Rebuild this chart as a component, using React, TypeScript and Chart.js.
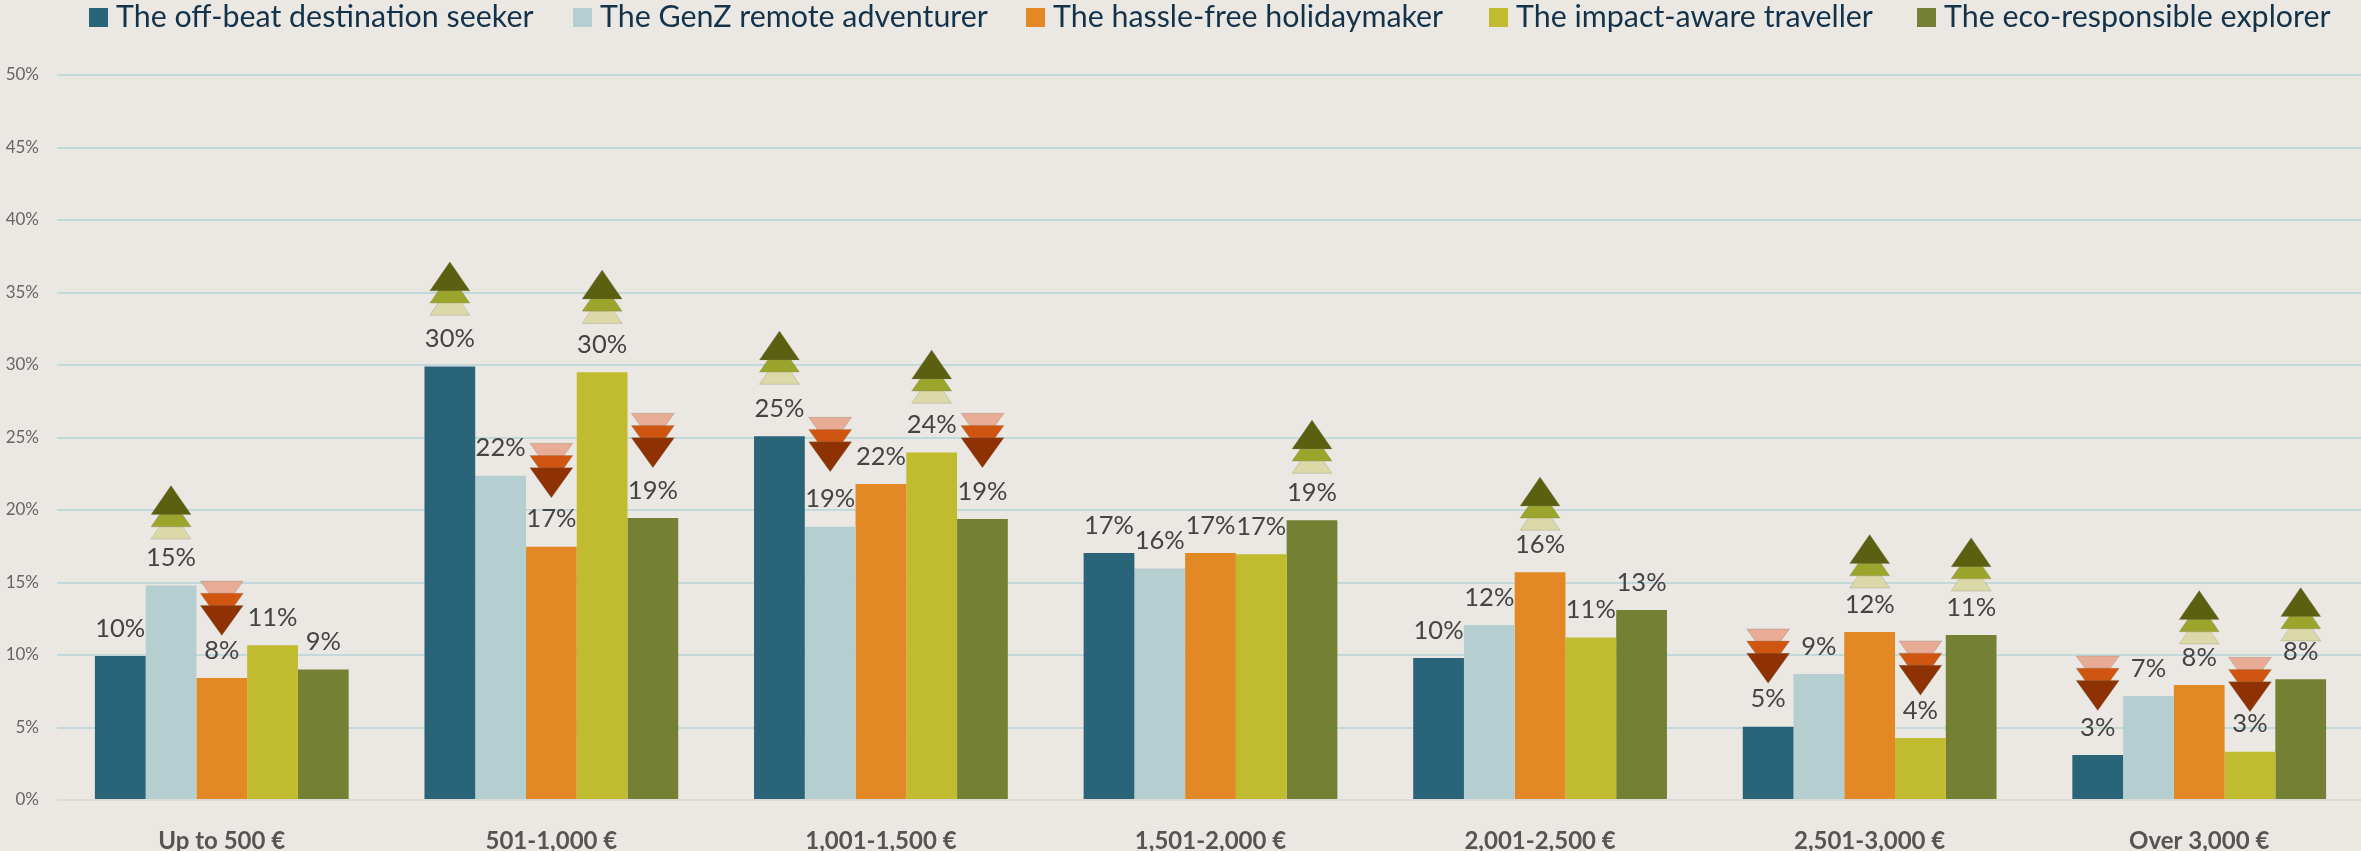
import React, { useEffect, useRef } from "react";
import { Chart, registerables } from "chart.js";

Chart.register(...registerables);

const categories = ["Up to 500 €", "501-1,000 €", "1,001-1,500 €", "1,501-2,000 €", "2,001-2,500 €", "2,501-3,000 €", "Over 3,000 €"];
const yTicks = [0, 5, 10, 15, 20, 25, 30, 35, 40, 45, 50];

const seriesNames = ["The off-beat destination seeker", "The GenZ remote adventurer", "The hassle-free holidaymaker", "The impact-aware traveller", "The eco-responsible explorer"];

const offBeat = [9.93, 29.9, 25.08, 17.03, 9.79, 5.06, 3.1];
const genZ = [14.8, 22.37, 18.85, 15.97, 12.07, 8.69, 7.17];
const hassleFree = [8.41, 17.47, 21.8, 17.03, 15.7, 11.59, 7.93];
const impactAware = [10.67, 29.5, 23.97, 16.94, 11.2, 4.28, 3.33];
const ecoResponsible = [9.0, 19.45, 19.38, 19.3, 13.1, 11.38, 8.32];

// Over/under-index direction per category: 1 up, -1 down, 0 none
const offBeatTrend = [0, 1, 1, 0, 0, -1, -1];
const genZTrend = [1, 0, -1, 0, 0, 0, 0];
const hassleFreeTrend = [-1, -1, 0, 0, 1, 1, 1];
const impactAwareTrend = [0, 1, 1, 0, 0, -1, -1];
const ecoResponsibleTrend = [0, -1, -1, 1, 0, 1, 1];

// Level on the value axis where each arrow stack starts
const offBeatArrow = [0, 33.43, 28.67, 0, 0, 11.8, 9.93];
const genZArrow = [18.0, 0, 26.39, 0, 0, 0, 0];
const hassleFreeArrow = [15.1, 24.6, 0, 0, 18.6, 14.62, 10.76];
const impactAwareArrow = [0, 32.87, 27.36, 0, 0, 10.97, 9.84];
const ecoResponsibleArrow = [0, 26.67, 26.67, 22.53, 0, 14.41, 10.97];

const seriesValues = [offBeat, genZ, hassleFree, impactAware, ecoResponsible];
const seriesTrends = [offBeatTrend, genZTrend, hassleFreeTrend, impactAwareTrend, ecoResponsibleTrend];
const seriesArrows = [offBeatArrow, genZArrow, hassleFreeArrow, impactAwareArrow, ecoResponsibleArrow];
const seriesColors = ["#2a6479", "#b5cecf", "#e28925", "#c1bb2f", "#748134"];

const BG = "#ebe8e3";
const FONT = "Lato";
const UP_COLORS = ["#dbd9a8", "#9ba52c", "#5a6010"];
const DOWN_COLORS = ["#e8ab95", "#cf5510", "#8f3203"];
const LEGEND_X = [89, 573, 1026, 1489, 1917];

const overlayPlugin = {
  id: "overlay",
  afterDatasetsDraw(chart: any) {
    const { ctx, scales } = chart;
    const y = scales.y;
    ctx.save();
    chart.data.datasets.forEach((_: any, di: number) => {
      const meta = chart.getDatasetMeta(di);
      meta.data.forEach((bar: any, i: number) => {
        const trend = seriesTrends[di][i];
        if (trend !== 0) {
          const start = y.getPixelForValue(seriesArrows[di][i]);
          const colors = trend > 0 ? UP_COLORS : DOWN_COLORS;
          const w = trend > 0 ? 20 : 21.5;
          const h = trend > 0 ? 29 : 30;
          const step = 12.2;
          colors.forEach((c, k) => {
            const yy = trend > 0 ? start - k * step : start + k * step;
            ctx.beginPath();
            ctx.moveTo(bar.x - w, yy);
            ctx.lineTo(bar.x + w, yy);
            ctx.lineTo(bar.x, trend > 0 ? yy - h : yy + h);
            ctx.closePath();
            ctx.fillStyle = c;
            ctx.fill();
            ctx.strokeStyle = "rgba(120,120,110,0.45)";
            ctx.lineWidth = 0.6;
            ctx.stroke();
          });
        }
      });
    });
    ctx.font = `25.5px ${FONT}`;
    ctx.fillStyle = "#444444";
    ctx.textAlign = "center";
    ctx.textBaseline = "middle";
    chart.data.datasets.forEach((ds: any, di: number) => {
      chart.getDatasetMeta(di).data.forEach((bar: any, i: number) => {
        ctx.fillText(`${Math.round(ds.data[i])}%`, bar.x, bar.y - 27.5);
      });
    });
    ctx.restore();
  },
  afterDraw(chart: any) {
    const { ctx } = chart;
    ctx.save();
    ctx.font = `30.4px ${FONT}`;
    ctx.textBaseline = "middle";
    ctx.textAlign = "left";
    chart.data.datasets.forEach((ds: any, di: number) => {
      const x = LEGEND_X[di];
      ctx.fillStyle = ds.backgroundColor;
      ctx.fillRect(x, 8, 19, 19);
      ctx.fillStyle = "#14334a";
      ctx.fillText(ds.label, x + 27, 17);
    });
    ctx.restore();
  },
};

export default function App() {
  const ref = useRef<HTMLCanvasElement>(null);
  useEffect(() => {
    const chart = new Chart(ref.current as HTMLCanvasElement, {
      type: "bar",
      data: {
        labels: categories,
        datasets: seriesNames.map((label, i) => ({
          label,
          data: seriesValues[i],
          backgroundColor: seriesColors[i],
          borderWidth: 0,
          categoryPercentage: 0.77,
          barPercentage: 1,
        })),
      },
      options: {
        responsive: false,
        animation: false,
        layout: { padding: { top: 75, left: 0, right: 0, bottom: 0 } },
        plugins: { legend: { display: false }, tooltip: { enabled: false }, title: { display: false } },
        scales: {
          x: {
            grid: { display: false },
            border: { display: false },
            ticks: { color: "#555555", font: { family: FONT, size: 24, weight: "bold" }, padding: 19, maxRotation: 0, autoSkip: false },
            afterFit(axis: any) { axis.height = 51; },
          },
          y: {
            min: 0,
            max: 50,
            afterBuildTicks(axis: any) { axis.ticks = yTicks.map((value) => ({ value })); },
            grid: {
              color: (c: any) => (c.tick && c.tick.value === 0 ? "#dcdad7" : "#c3d8da"),
              lineWidth: 2,
              drawTicks: false,
            },
            border: { display: false },
            ticks: { color: "#666666", font: { family: FONT, size: 17 }, padding: 18, callback: (v: any) => `${v}%` },
            afterFit(axis: any) { axis.width = 57; },
          },
        },
      },
      plugins: [overlayPlugin],
    } as any);
    return () => chart.destroy();
  }, []);
  return (
    <div style={{ position: "fixed", left: 0, top: 0, width: 2361, height: 851, background: BG, overflow: "hidden" }}>
      <canvas ref={ref} width={2364} height={851} style={{ display: "block" }} />
    </div>
  );
}
